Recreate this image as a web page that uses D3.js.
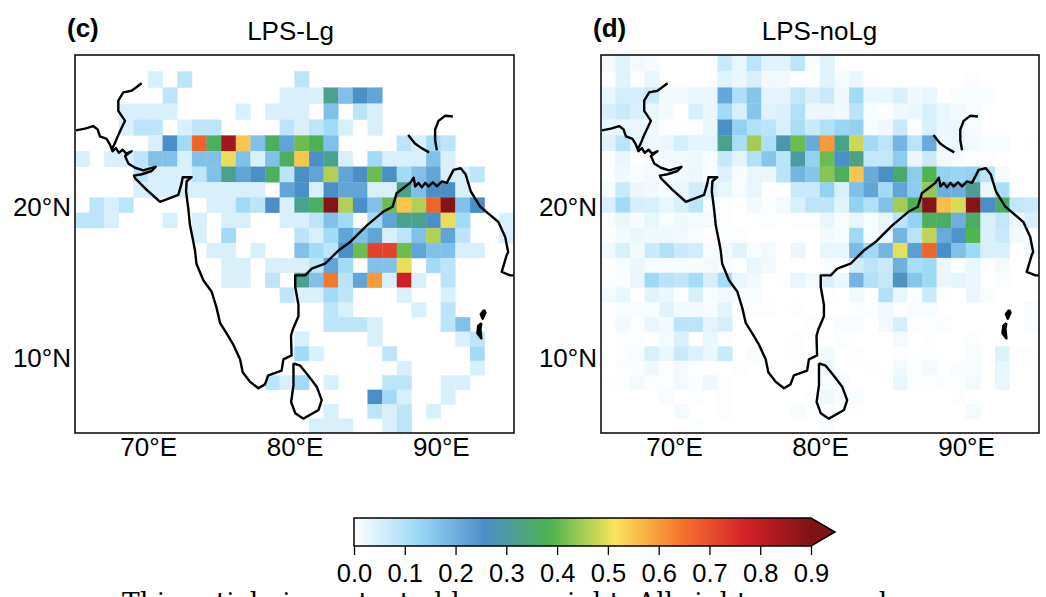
<!DOCTYPE html>
<html>
<head>
<meta charset="utf-8">
<script src="https://cdn.jsdelivr.net/npm/d3@7"></script>
<style>
  body { margin: 0; background: #fff; }
  text { font-family: "Liberation Sans", Arial, sans-serif; fill: #000; }
</style>
</head>
<body>
<div id="chart"></div>
<script>
// frequency grids, 1 degree cells, top row = 29-30N, first column = 65-66E
const lpsLg = [
  [0,0,0,0,0,0,0,0,0,0,0,0,0,0,0,0,0,0,0,0,0,0,0,0,0,0,0,0,0,0],
  [0,0,0,0,0,.05,0,.085,0,0,0,0,0,0,0,.085,0,0,0,0,0,0,0,0,0,0,0,0,0,0],
  [0,0,0,0,0,0,.085,0,0,0,0,0,0,0,.05,.05,.05,.32,.17,.26,.22,0,0,0,0,0,0,0,0,0],
  [0,0,0,.05,.05,.05,.05,0,0,0,0,.05,0,.05,.05,.05,0,.17,0,.085,.05,0,0,0,0,0,0,0,0,0],
  [0,0,0,.05,.085,.085,0,.05,.085,.085,0,0,0,0,.085,.05,.085,.12,.05,0,.05,0,0,0,0,0,0,0,0,0],
  [0,0,0,0,0,.05,.26,.12,.67,.37,.85,.55,.17,.37,.22,.41,.38,.17,0,0,0,0,.085,.05,.12,.085,0,0,0,0],
  [.05,0,.05,.05,.085,.17,.17,.05,.17,.17,.5,.17,.05,.17,.37,.55,.26,.32,.05,0,.12,.05,.05,.05,.17,.05,0,0,0,0],
  [0,0,0,0,.085,.05,.05,.05,.085,.17,.32,.22,.26,.37,.085,.26,.22,.46,.22,.26,.41,.26,.12,.17,.22,.05,.05,.085,0,0],
  [0,0,0,0,.05,.05,.05,.05,.05,.05,.05,.05,.05,0,.22,.26,.05,.26,.22,.22,.05,.05,.32,.17,.26,.26,.05,0,0,0],
  [0,.085,.05,.085,0,0,0,0,0,.05,.05,.12,.085,.26,.05,.32,.37,.89,.46,.26,.17,.41,.55,.46,.67,.89,.17,.26,0,0],
  [.085,.085,.05,0,0,0,.05,0,.05,0,.05,.05,0,0,.05,.05,.085,.17,.12,0,.12,.22,.32,.32,.26,.5,.12,0,0,.05],
  [0,0,0,0,0,0,0,0,.05,0,.12,0,0,0,0,.085,.05,.12,.22,.17,.22,.05,.085,.17,.46,.22,.085,0,0,.05],
  [0,0,0,0,0,0,0,0,0,.05,.05,0,.05,0,0,.17,.12,.085,.26,.41,.72,.72,.41,.22,.17,.17,.05,.05,0,0],
  [0,0,0,0,0,0,0,0,0,0,.05,.05,0,.05,.05,.05,.085,.22,.12,0,.17,.17,.5,0,.12,.085,0,0,0,0],
  [0,0,0,0,0,0,0,0,0,0,.05,.05,0,.085,0,.32,.17,.64,.085,.22,.6,.05,.78,.05,0,.085,0,0,0,0],
  [0,0,0,0,0,0,0,0,0,0,0,0,0,0,.085,.05,.05,.12,.085,0,0,0,.05,0,0,.05,0,0,0,0],
  [0,0,0,0,0,0,0,0,0,0,0,0,0,0,0,0,0,.085,.05,0,0,0,0,.05,0,.085,0,0,0,0],
  [0,0,0,0,0,0,0,0,0,0,0,0,0,0,0,0,0,.085,.085,.085,.05,0,0,0,0,.085,.17,0,0,0],
  [0,0,0,0,0,0,0,0,0,0,0,0,0,0,0,.05,0,0,0,0,.05,0,0,0,0,0,.05,.085,0,0],
  [0,0,0,0,0,0,0,0,0,0,0,0,0,0,0,.12,.05,0,0,0,0,.085,0,0,0,0,0,.12,0,0],
  [0,0,0,0,0,0,0,0,0,0,0,0,0,0,0,0,0,0,0,0,0,0,.05,0,0,0,0,.05,0,0],
  [0,0,0,0,0,0,0,0,0,0,0,0,0,.085,.05,.12,0,.05,0,0,0,.085,.085,0,0,.05,.05,0,0,0],
  [0,0,0,0,0,0,0,0,0,0,0,0,0,0,0,0,0,0,0,0,.26,.12,.05,0,0,.05,0,0,0,0],
  [0,0,0,0,0,0,0,0,0,0,0,0,0,0,0,0,0,.05,0,0,.085,.05,.085,0,.05,0,0,0,0,0],
  [0,0,0,0,0,0,0,0,0,0,0,0,0,0,0,0,.05,.05,.05,0,0,.05,.085,0,0,0,0,0,0,0]
];

const lpsNoLg = [
  [.015,.04,.015,.01,0,0,0,.005,.07,.03,.09,.04,.04,.085,.01,.04,0,0,0,0,0,0,0,0,0,0,0,0,0,0],
  [0,.04,.005,.03,0,0,0,0,.04,.03,.05,.015,.015,.005,.005,.04,.015,.03,.005,0,0,0,0,0,0,.005,0,0,0,0],
  [.03,.055,.055,.07,.015,.015,.03,.03,.215,.105,.16,.035,.035,.08,.05,.07,.02,.12,.03,.03,.05,.02,.03,0,.01,.01,.01,0,0,0],
  [.05,.07,.05,.03,.015,0,.05,.03,.12,.05,.16,.04,.05,.1,.025,.025,.02,.085,.01,.005,.02,.025,.05,.03,.015,.01,0,0,0,0],
  [.03,.03,.03,.02,.005,.005,.005,.03,.26,.14,.1,.09,.05,.11,.07,.1,.13,.14,.01,.02,.07,.005,.05,.03,.03,.01,0,0,0,0],
  [.04,.09,.03,.02,.025,.055,.035,.035,.32,.11,.45,.105,.29,.41,.21,.6,.33,.48,.12,.085,.19,.09,.21,.02,.03,.015,.01,.01,0,.005],
  [.005,.03,0,.01,.015,.015,.02,.01,.075,.035,.1,.16,.09,.3,.14,.41,.26,.33,.08,.08,.15,.025,.07,.015,.01,.005,.005,0,0,0],
  [.005,.02,.01,.015,.01,.015,.025,.01,.045,.01,.03,.025,.09,.19,.16,.43,.37,.55,.21,.26,.35,.15,.39,.14,.13,.14,.09,.015,0,0],
  [.015,.07,.025,.02,.01,.025,.06,.05,.03,.01,.03,0,0,.07,.07,.14,.05,.17,.22,.12,.22,.15,.44,.2,.2,.31,.03,.11,.005,0],
  [.05,.12,.055,.05,.03,.05,.085,.01,.005,0,.015,.005,.015,.05,.085,.085,.04,.14,.1,.17,.45,.37,.89,.56,.49,.89,.26,.36,.08,.07],
  [.01,.025,.01,.03,.01,.02,.015,.015,.005,0,0,.005,0,.005,.005,.03,.01,.03,.01,.03,.09,.14,.37,.36,.2,.36,.05,.08,.025,.05],
  [.005,.015,.025,.02,.02,.015,.01,0,.005,.005,0,0,0,0,0,.015,.01,.125,.01,.03,.19,.09,.47,.21,.25,.39,.05,.07,.015,.01],
  [.015,.05,.015,.07,.1,.07,.06,.01,.02,.04,.01,.015,0,.025,0,.03,.03,.18,.125,.19,.5,.23,.67,.26,.17,.125,.05,.05,0,.02],
  [0,.01,.025,.01,.01,.01,.01,.015,.01,0,.03,.015,0,0,0,.01,0,.06,.09,.07,.2,.11,.125,.025,.005,.03,0,.015,0,0],
  [.005,.005,.025,.125,.09,.08,.115,.05,.115,.03,.015,0,.005,.03,.015,.05,.03,.19,.1,.08,.27,.16,.125,.025,.035,.025,0,.005,0,0],
  [.015,.03,0,.04,.03,.005,.05,.01,.015,.01,.01,0,0,0,0,.005,0,.015,0,.1,.03,.005,.07,.005,0,.025,.01,0,0,0],
  [0,.01,.01,.01,.04,.015,.015,.01,.035,.005,.005,.005,0,.005,0,0,0,.005,.005,.015,.005,.01,.01,0,0,0,0,0,0,.01],
  [0,.015,.005,.03,.015,.09,.09,.035,.055,0,0,0,0,0,.005,0,.01,.01,0,.015,.055,.005,.005,.005,0,0,0,0,0,.01],
  [0,.005,.005,0,.015,.05,0,.03,.005,0,0,0,0,.005,0,0,.005,0,0,0,.015,0,.005,0,0,.005,0,0,0,0],
  [0,.005,.01,.05,.03,.07,.045,.025,.07,0,.01,0,0,.005,0,.015,0,.005,0,0,.005,0,.005,0,0,.01,0,.045,.005,.005],
  [0,.005,.005,.02,.005,.015,.005,0,0,.005,0,0,0,0,0,.02,0,0,.005,0,.015,.005,.015,0,.01,.01,0,.03,0,0],
  [.005,.005,.015,.005,.005,.015,.005,.02,.005,0,0,0,0,0,0,.01,.01,0,0,0,.03,.005,.005,.005,.005,.015,0,.03,0,0],
  [0,0,0,0,.01,0,.005,0,.005,0,0,0,0,0,.005,.02,.01,.01,0,0,0,0,0,0,.005,0,0,0,0,0],
  [0,0,0,0,0,.015,0,0,.005,0,0,0,0,.01,0,.005,0,0,0,0,0,0,0,0,0,.015,0,0,0,0],
  [0,0,0,0,0,0,.005,0,0,0,0,0,0,0,0,.01,0,0,0,0,0,0,0,0,0,0,0,0,0,0]
];

const lonTicks = [70, 80, 90];
const latTicks = [10, 20];
const cbarTicks = [0, .1, .2, .3, .4, .5, .6, .7, .8, .9];
const rampColors = ["#ffffff", "#9bd8f6", "#4a8fc9", "#4bb34e", "#fbe55a", "#f5762c", "#d62028", "#7f1214"];

// coast and river lines as lon/lat pairs
const coastWest = [[65.07,25.33],[65.68,25.44],[66.25,25.6],[66.55,25.38],[66.71,24.94],[67.16,24.79],[67.39,24.42],[67.57,24],[67.8,24.2],[68,23.9],[68.25,24.1],[68.5,23.85],[68.87,24],[68.42,23.7],[68.64,23.22],[69.1,22.94],[69.67,22.77],[70.13,22.9],[70.51,23],[70.24,22.73],[69.56,22.52],[69.03,22.43],[69.1,22.27],[69.9,21.51],[70.81,20.73],[72.06,21.18],[72.29,21.96],[72.36,22.33],[72.97,22.33],[72.63,22.07],[72.59,21.4],[72.74,20.29],[72.86,19.18],[73.09,18.07],[73.2,17.5],[73.3,16.62],[73.77,15.51],[74.34,14.73],[74.68,13.62],[74.91,12.62],[75.36,11.9],[75.82,11.12],[76.28,10.11],[76.46,9.22],[76.96,8.56],[77.53,8.11],[77.98,8.38],[78.21,9],[79.12,9.33],[79.24,10.11],[79.8,10.38],[79.76,11.73],[79.89,12.18],[80.27,13.07],[80.27,13.84],[80.05,15.07],[80.05,15.84],[80.73,15.84],[81.18,16.29],[82.09,16.62],[83,17.5],[83.8,18.07],[84.95,19.18],[86.05,20.07],[86.7,20.4],[86.98,21.29],[87.9,21.96],[88.14,22.3],[88.25,21.73],[88.48,21.96],[88.7,21.67],[88.93,21.96],[89.16,21.73],[89.45,22],[89.73,21.73],[90.07,22.06],[90.41,21.96],[90.64,22.38],[90.87,22.8],[91.36,22.91],[91.7,22.5],[92.05,21.4],[92.7,20.4],[93.4,19.84],[93.93,19.4],[94.4,18.4],[94.6,17.4],[94.5,17.2],[94.16,16.07],[94.75,15.84],[95,15.84]];
const sriLanka = [[79.93,9.84],[80.39,9.67],[80.84,9.11],[81.52,8.22],[81.86,7.29],[81.64,6.6],[80.61,6],[80.05,6.38],[79.77,7.16],[79.93,8.33],[79.93,9.84]];
const andamanNorth = [[92.95,13.5],[93.05,13.3],[92.86,12.9],[92.73,13.2],[92.95,13.5]];
const andamanSouth = [[92.77,12.6],[92.7,12.2],[92.77,11.55],[92.5,11.9],[92.55,12.4],[92.77,12.6]];
const indusLine = [[69.56,28.27],[68.87,27.81],[68.3,27.71],[67.96,27.19],[67.96,26.56],[68.42,25.93],[68.19,25.49],[67.96,25.04],[67.73,24.52],[67.5,24.1]];
const gangesLine = [[87.77,25.04],[88.23,24.5],[88.68,24.2],[89.2,23.93]];
const brahmaLine = [[90.82,26.2],[90.3,26.25],[89.84,25.93],[89.61,25.38],[89.61,24.7],[89.73,24.06]];
const coastLines = [coastWest, sriLanka, andamanNorth, andamanSouth, indusLine, gangesLine, brahmaLine];

const panels = [
  { tag: "(c)", title: "LPS-Lg", grid: lpsLg, left: 75, right: 514, titleX: 290.5 },
  { tag: "(d)", title: "LPS-noLg", grid: lpsNoLg, left: 601, right: 1039, titleX: 819.5 }
];

const plotTop = 55, plotBottom = 433;
const svg = d3.select("#chart").append("svg").attr("width", 1046).attr("height", 597);
const defs = svg.append("defs");

const color = d3.scaleLinear()
  .domain(rampColors.map((d, i) => i * 0.9 / (rampColors.length - 1)))
  .range(rampColors)
  .clamp(true);

// mercator latitude
const merc = lat => Math.log(Math.tan(Math.PI / 4 + lat * Math.PI / 360));
const yMerc = d3.scaleLinear().domain([merc(5), merc(30)]).range([plotBottom, plotTop]);
const labelY = d3.scaleLinear().domain([10, 20]).range([358, 207]);

panels.forEach((p, idx) => {
  const x = d3.scaleLinear().domain([65, 95]).range([p.left, p.right]);
  const g = svg.append("g");

  const clipId = "clip" + idx;
  defs.append("clipPath").attr("id", clipId).append("rect")
    .attr("x", p.left).attr("y", plotTop).attr("width", p.right - p.left).attr("height", plotBottom - plotTop);

  const cells = [];
  p.grid.forEach((row, r) => row.forEach((v, c) => {
    if (v > 0) cells.push({ lon: 65 + c, lat: 29 - r, v: v });
  }));

  g.append("g").attr("clip-path", `url(#${clipId})`)
    .selectAll("rect").data(cells).join("rect")
      .attr("x", d => x(d.lon))
      .attr("y", d => yMerc(merc(d.lat + 1)))
      .attr("width", d => x(d.lon + 1) - x(d.lon))
      .attr("height", d => yMerc(merc(d.lat)) - yMerc(merc(d.lat + 1)))
      .attr("fill", d => color(d.v))
      .attr("stroke", d => color(d.v))
      .attr("stroke-width", 0.3);

  const line = d3.line().x(d => x(d[0])).y(d => yMerc(merc(d[1])));
  g.append("g").attr("clip-path", `url(#${clipId})`)
    .selectAll("path").data(coastLines).join("path")
      .attr("d", line)
      .attr("fill", d => (d === andamanNorth || d === andamanSouth) ? "#000" : "none")
      .attr("stroke", "#000")
      .attr("stroke-width", 2.4)
      .attr("stroke-linejoin", "round");

  g.append("rect")
    .attr("x", p.left).attr("y", plotTop)
    .attr("width", p.right - p.left).attr("height", plotBottom - plotTop)
    .attr("fill", "none").attr("stroke", "#111").attr("stroke-width", 1.6);

  // axes, no tick marks in the reference
  const xAxis = g.append("g").attr("transform", `translate(0,${plotBottom})`)
    .call(d3.axisBottom(x).tickValues(lonTicks).tickSize(0).tickPadding(5).tickFormat(d => d + "°E"));
  xAxis.select(".domain").remove();
  xAxis.selectAll("text").style("font-size", "26px").style("font-family", null);

  const yAxis = g.append("g").attr("transform", `translate(${p.left - 4},0)`)
    .call(d3.axisLeft(labelY).tickValues(latTicks).tickSize(0).tickPadding(0).tickFormat(d => d + "°N"));
  yAxis.select(".domain").remove();
  yAxis.selectAll("text").style("font-size", "26px").style("font-family", null);

  g.append("text").attr("x", p.titleX).attr("y", 40)
    .attr("text-anchor", "middle").style("font-size", "26px").text(p.title);
  g.append("text").attr("x", p.left - 8).attr("y", 37)
    .style("font-size", "26px").style("font-weight", "bold").text(p.tag);
});

// colorbar
const cbar = d3.scaleLinear().domain([0, 0.9]).range([354, 811]);
const cbTop = 518, cbBottom = 546;
const grad = defs.append("linearGradient").attr("id", "ramp");
color.domain().forEach((d, i) => {
  grad.append("stop").attr("offset", d / 0.9).attr("stop-color", rampColors[i]);
});
svg.append("rect")
  .attr("x", cbar(0)).attr("y", cbTop)
  .attr("width", cbar(0.9) - cbar(0)).attr("height", cbBottom - cbTop)
  .attr("fill", "url(#ramp)");
svg.append("path")
  .attr("d", `M${cbar(0.9)},${cbTop}L835,${(cbTop + cbBottom) / 2}L${cbar(0.9)},${cbBottom}Z`)
  .attr("fill", rampColors[7]);
svg.append("path")
  .attr("d", `M${cbar(0)},${cbTop}H${cbar(0.9)}L835,${(cbTop + cbBottom) / 2}L${cbar(0.9)},${cbBottom}H${cbar(0)}Z`)
  .attr("fill", "none").attr("stroke", "#000").attr("stroke-width", 1.5);

const cbAxis = svg.append("g").attr("transform", `translate(0,${cbBottom})`)
  .call(d3.axisBottom(cbar).tickValues(cbarTicks).tickSize(9).tickPadding(9).tickFormat(d3.format(".1f")));
cbAxis.select(".domain").remove();
cbAxis.selectAll("line").attr("stroke", "#000").attr("stroke-width", 1.3);
cbAxis.selectAll("text").style("font-size", "25.5px").style("font-family", null);

svg.append("text").attr("x", 122).attr("y", 611)
  .style("font-family", "'DejaVu Serif', serif").style("font-size", "26.5px")
  .text("This article is protected by copyright. All rights reserved");
</script>
</body>
</html>
